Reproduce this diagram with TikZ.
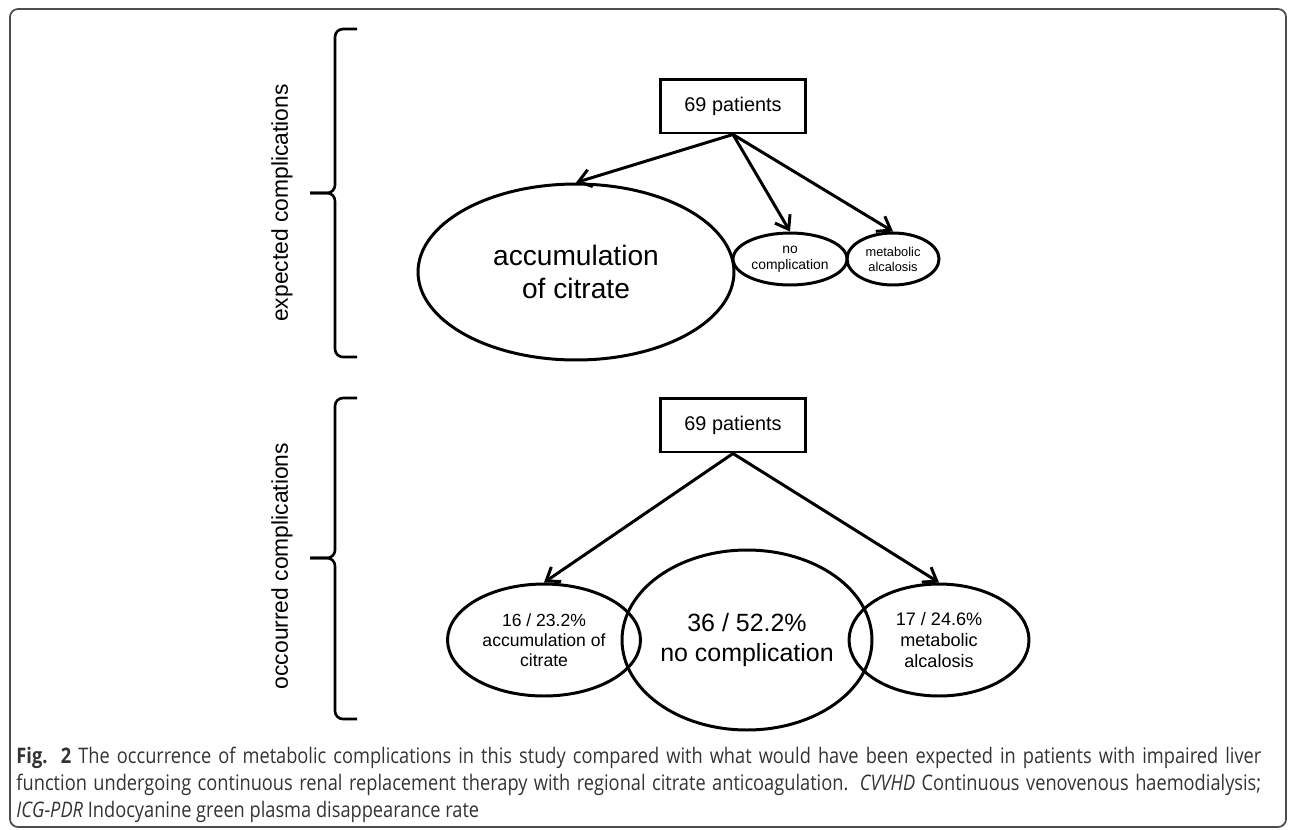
\documentclass[tikz,border=0pt]{standalone}
\usepackage{fontspec}
\setmainfont{Liberation Sans}
\newfontfamily\capfont[FakeStretch=0.85]{Open Sans}
\usetikzlibrary{arrows.meta,positioning,shapes.geometric}
\newcommand{\Oval}[6]% pos, name, width, height, {size}{skip}, text
{\node[oval,minimum width=#3,minimum height=#4,font=\fontsize#5\selectfont] (#2) at (#1) {#6};}
\newcommand{\Count}[2]% pos, name
{\node[countbox] (#2) at (#1) {69 patients};}
\newcommand{\Arrow}[2]%
{\draw[->] (#1) -- (#2);}
\newcommand{\Curly}[3]% top, tip, bottom (y values)
{\draw[curly] (357,#1) -| (335,#2) -- (310,#2);
 \draw[curly] (310,#2) -- (335,#2) |- (357,#3);}
\newcommand{\CapLine}[1]{\makebox[24.9cm][s]{#1}}
\tikzset{
  oval/.style={ellipse,draw,line width=1.7pt,inner sep=0pt,align=center},
  countbox/.style={draw,line width=1.7pt,minimum width=2.9cm,minimum height=1.08cm,
    inner sep=0pt,font=\fontsize{11.3}{13}\selectfont},
  curly/.style={line width=1.5pt,rounded corners=0.16cm},
  side/.style={rotate=90,font=\fontsize{13}{15}\selectfont},
  capline/.style={anchor=base west,inner sep=0pt,text=black!80,
    font=\capfont\fontsize{12.2}{15}\selectfont},
}

\begin{document}
\begin{tikzpicture}[x=0.02cm,y=-0.02cm,line width=1.7pt,>={Straight Barb[length=7pt,width=10pt]}]
  \useasboundingbox (0,0) rectangle (1290,829);
  \draw[line width=1pt,black!70,rounded corners=0.16cm] (10,9) rectangle (1286,827);
  % expected
  \Count{733,106}{pat1}
  \Oval{576,272}{citr1}{6.32cm}{3.52cm}{{16}{19}}{accumulation\\ of citrate}
  \Oval{790,259}{none1}{2.28cm}{1.04cm}{{7.9}{9.3}}{no\\ complication}
  \Oval{893,259}{alk1}{1.84cm}{1.04cm}{{7.3}{8.6}}{metabolic\\ alcalosis}
  \Arrow{pat1.south}{citr1.north}
  \Arrow{pat1.south}{none1.north}
  \Arrow{pat1.south}{alk1.north}
  \Curly{29}{193}{357}
  \node[side] (lab1) at (282,203) {expected complications};
  % occurred
  \Count{733,425}{pat2}
  \Oval{544,640}{citr2}{3.86cm}{2.24cm}{{10}{11.5}}{16 / 23.2\%\\ accumulation of\\ citrate}
  \Oval{747,640}{none2}{5.0cm}{3.6cm}{{14.2}{17}}{36 / 52.2\%\\ no complication}
  \Oval{939,640}{alk2}{3.6cm}{2.24cm}{{10.3}{11.8}}{17 / 24.6\%\\ metabolic\\ alcalosis}
  \Arrow{pat2.south}{citr2.north}
  \Arrow{pat2.south}{alk2.north}
  \Curly{398}{558}{719}
  \node[side] (lab2) at (282,566) {occourred complications};
  % caption
  \node[capline] (cap1) at (15,763) {\CapLine{\textbf{Fig. 2} The occurrence of metabolic complications in this study compared with what would have been expected in patients with impaired liver}};
  \node[capline] (cap2) at (15,790) {\CapLine{function undergoing continuous renal replacement therapy with regional citrate anticoagulation. \textit{CVVHD} Continuous venovenous haemodialysis;}};
  \node[capline] (cap3) at (15,817) {\textit{ICG-PDR} Indocyanine green plasma disappearance rate};
\end{tikzpicture}
\end{document}
